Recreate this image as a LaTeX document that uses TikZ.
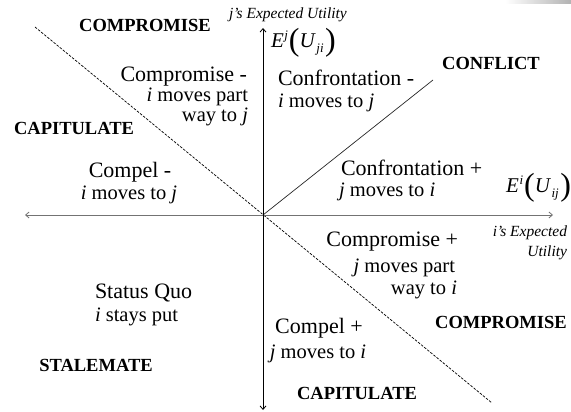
\documentclass[tikz,border=0pt]{standalone}
\usepackage{fontspec}
\setmainfont{Liberation Serif}
\usetikzlibrary{arrows.meta}
\newcommand{\fsz}[1]{\fontsize{#1}{#1}\selectfont}
% expected utility E^a(U_b) with tall parentheses
\newcommand{\expu}[2]{\textit{E}\kern0.5pt\raisebox{7.5pt}{\fsz{13}\itshape #1}\kern1pt\raisebox{-3.5pt}{\fsz{32}(}\textit{U}\kern0.5pt\raisebox{-5pt}{\fsz{13}\itshape #2}\kern1.5pt\raisebox{-3.5pt}{\fsz{32})}}
\begin{document}
\begin{tikzpicture}[x=1pt,y=-1pt,
  every node/.style={inner sep=0pt,outer sep=0pt,text=black},
  region/.style={font=\fsz{22}},
  move/.style={font=\fsz{20.5}},
  outcome/.style={font=\fsz{18.5}\bfseries},
  axislabel/.style={font=\fsz{15.5}\itshape},
  utility/.style={font=\fsz{21}},
  axisline/.style={line width=0.8pt,{Straight Barb[length=3.5pt,width=6pt]}-{Straight Barb[length=3.5pt,width=6pt]}},
  boundary/.style={line width=0.7pt,dash pattern=on 2.6pt off 1.4pt},
  conflictline/.style={line width=0.7pt,black!85}]
\useasboundingbox (0,0) rectangle (571,412);
% faint shadow at the top right edge
\shade[left color=white,right color=black!30] (505,0) rectangle (571,4);

% axes and dividing lines
\coordinate (O) at (263,215);
\coordinate (xl) at (25,215);
\coordinate (xr) at (553,215);
\coordinate (yt) at (263,28);
\coordinate (yb) at (263,410);
\coordinate (dA) at (35,27);
\coordinate (dB) at (492,403);
\coordinate (cf) at (433,80);
\draw[boundary] (dA) -- (dB);
\draw[conflictline] (O) -- (cf);
\draw[axisline,black!55] (xl) -- (xr);
\draw[axisline] (yb) -- (yt);

% axis labels
\node[axislabel] (jlab) at (288,15) {j’s Expected Utility};
\node[utility,anchor=west] (eji) at (271,43) {\expu{j}{ji}};
\node[utility,anchor=east] (eij) at (571,188) {\expu{i}{ij}};
\node[axislabel,anchor=east] (ilab1) at (567,233) {i’s Expected};
\node[axislabel,anchor=east] (ilab2) at (567,253) {Utility};

% outcome labels
\node[outcome] (cmpTL) at (145,25) {COMPROMISE};
\node[outcome] (capL) at (74,128) {CAPITULATE};
\node[outcome] (confl) at (491,63) {CONFLICT};
\node[outcome] (cmpBR) at (501,322) {COMPROMISE};
\node[outcome] (capB) at (357,393) {CAPITULATE};
\node[outcome] (stale) at (96,365) {STALEMATE};

% regions, upper left
\node[region,anchor=east] (r1a) at (247,77) {Compromise -};
\node[move,anchor=east] (r1b) at (248,97) {\textit{i} moves part};
\node[move,anchor=east] (r1c) at (248,117) {way to \textit{j}};
\node[region] (r2a) at (130,172) {Compel -};
\node[move] (r2b) at (129,195) {\textit{i} moves to \textit{j}};

% regions, upper right
\node[region,anchor=west] (r3a) at (278,78) {Confrontation -};
\node[move,anchor=west] (r3b) at (278,103) {\textit{i} moves to \textit{j}};
\node[region,anchor=west] (r4a) at (341,168) {Confrontation +};
\node[move,anchor=west] (r4b) at (339,192) {\textit{j} moves to \textit{i}};

% regions, lower right
\node[region,anchor=east] (r5a) at (458,242) {Compromise +};
\node[move,anchor=east] (r5b) at (455,268) {\textit{j} moves part};
\node[move,anchor=east] (r5c) at (457,290) {way to \textit{i}};
\node[region] (r6a) at (319,328) {Compel +};
\node[move] (r6b) at (318,354) {\textit{j} moves to \textit{i}};

% region, lower left
\node[region,anchor=west] (r7a) at (95,293) {Status Quo};
\node[move,anchor=west] (r7b) at (95,317) {\textit{i} stays put};
\end{tikzpicture}
\end{document}
